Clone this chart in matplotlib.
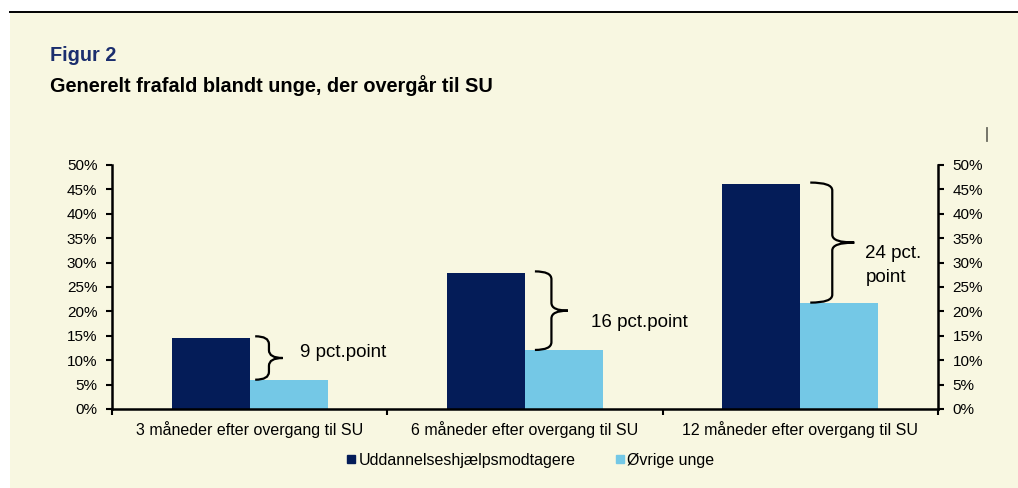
import matplotlib
matplotlib.use("Agg")
import matplotlib.pyplot as plt
from matplotlib.path import Path
from matplotlib.patches import PathPatch, Rectangle
from matplotlib.lines import Line2D
from matplotlib.ticker import MultipleLocator, PercentFormatter

plt.rcParams['font.family'] = ['Liberation Sans', 'DejaVu Sans']

# ---- data ----
categories = ["3 måneder efter overgang til SU",
              "6 måneder efter overgang til SU",
              "12 måneder efter overgang til SU"]
series_names = ["Uddannelseshjælpsmodtagere", "Øvrige unge"]
uddannelseshjaelp = [14.6, 27.9, 46.1]
oevrige = [6.0, 12.1, 21.8]
gap_labels = ["9 pct.point", "16 pct.point", "24 pct.\npoint"]
title_fig = "Figur 2"
title = "Generelt frafald blandt unge, der overgår til SU"

# ---- style ----
BG = "#F8F7E1"
DARK = "#041C58"
LIGHT = "#74C8E6"
W, H = 1018, 488

fig = plt.figure(figsize=(W / 100, H / 100), dpi=100)
fig.patch.set_facecolor("white")
fig.patches.append(Rectangle((10 / W, 0), 1 - 10 / W, 1 - 13 / H, transform=fig.transFigure,
                             facecolor=BG, edgecolor="none", zorder=-10))
fig.add_artist(Line2D([10 / W, 1], [1 - 12 / H, 1 - 12 / H], transform=fig.transFigure,
                      color="black", lw=1.4))
fig.add_artist(Line2D([987 / W, 987 / W], [1 - 128 / H, 1 - 141 / H], transform=fig.transFigure,
                      color="#6b6b60", lw=1.3))

fig.text(50 / W, 1 - 61 / H, title_fig, fontsize=14.3, fontweight="bold", color="#1B2E6E",
         va="baseline", ha="left")
fig.text(50 / W, 1 - 92 / H, title, fontsize=14.3, fontweight="bold", color="black",
         va="baseline", ha="left")

ax = fig.add_axes([112 / W, 1 - 409 / H, (938 - 112) / W, (409 - 165) / H])
ax.set_facecolor(BG)
ax.patch.set_alpha(0)

x = list(range(len(categories)))
bw = 78 / 275.3
ax.bar([i - bw / 2 for i in x], uddannelseshjaelp, width=bw, color=DARK, label=series_names[0])
ax.bar([i + bw / 2 for i in x], oevrige, width=bw, color=LIGHT, label=series_names[1])

ax.set_xlim(-0.5, len(categories) - 0.5)
ax.set_ylim(0, 50)
ax.yaxis.set_major_locator(MultipleLocator(5))
ax.yaxis.set_major_formatter(PercentFormatter(decimals=0))

ax.spines["top"].set_visible(False)
for s in ["left", "right", "bottom"]:
    ax.spines[s].set_linewidth(1.8)
    ax.spines[s].set_color("black")

ax.set_xticks(x)
ax.set_xticklabels(categories, fontsize=11.5)
ax.set_xticks([i - 0.5 for i in range(len(categories) + 1)], minor=True)
ax.tick_params(axis="x", which="major", length=0, pad=9)
ax.tick_params(axis="x", which="minor", length=4, width=1.5, direction="out")
ax.tick_params(axis="y", which="major", length=4.5, width=1.5, direction="out", labelsize=11,
               pad=6, left=True, right=True, labelleft=True, labelright=True)

# braces
def brace(ax, x0, depth, ytop, ybot, ry=1.6):
    xm = x0 + depth / 2
    ymid = (ytop + ybot) / 2
    verts = [(x0, ytop), (xm, ytop), (xm, ytop - ry),
             (xm, ymid + ry),
             (xm, ymid), (x0 + depth, ymid),
             (xm, ymid), (xm, ymid - ry),
             (xm, ybot + ry),
             (xm, ybot), (x0, ybot)]
    codes = [Path.MOVETO, Path.CURVE3, Path.CURVE3,
             Path.LINETO,
             Path.CURVE3, Path.CURVE3,
             Path.CURVE3, Path.CURVE3,
             Path.LINETO,
             Path.CURVE3, Path.CURVE3]
    ax.add_patch(PathPatch(Path(verts, codes), facecolor="none", edgecolor="black",
                           lw=1.6, capstyle="butt", clip_on=False))
    return ymid

brace_x = [0.02, 0.036, 0.036]
brace_depth = [0.10, 0.12, 0.16]
text_x = [0.183, 0.24, 0.236]
text_dy = [1.2, -2.4, -4.7]
for i in x:
    ymid = brace(ax, i + brace_x[i], brace_depth[i], uddannelseshjaelp[i] + 0.3, oevrige[i])
    ax.text(i + text_x[i], ymid + text_dy[i], gap_labels[i], fontsize=13.5, va="center",
            ha="left", linespacing=1.6)

handles = [Line2D([], [], marker="s", ls="none", color=DARK, markersize=6),
           Line2D([], [], marker="s", ls="none", color=LIGHT, markersize=6)]
fig.legend(handles, series_names, loc="center", bbox_to_anchor=(0.521, 1 - 460 / H), ncol=2,
           frameon=False, fontsize=11.5, handlelength=0.6, handletextpad=0.15,
           columnspacing=2.5, borderpad=0)

fig.savefig("out.png", dpi=100, facecolor=fig.get_facecolor())
